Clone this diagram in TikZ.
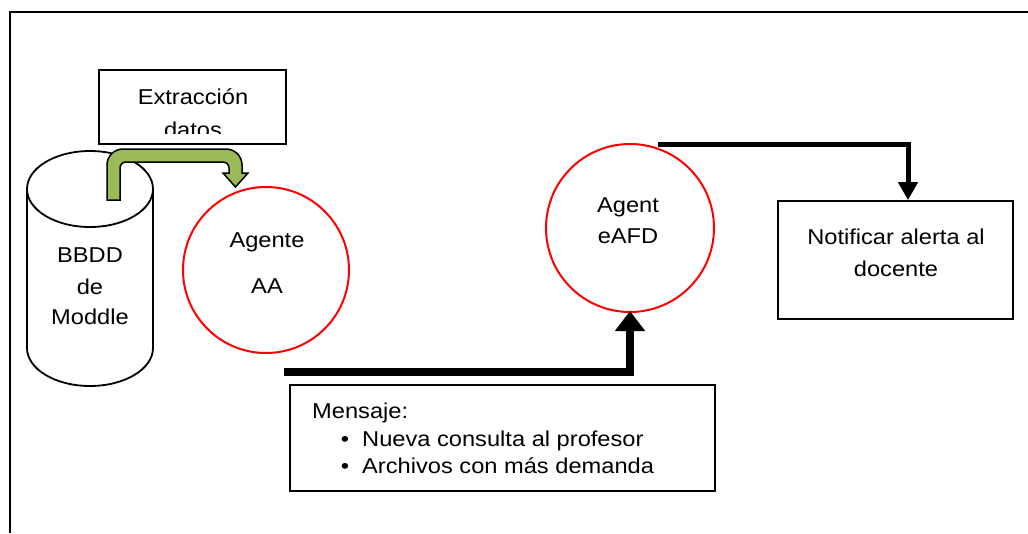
\documentclass[tikz,border=0pt]{standalone}
\usepackage{fontspec}
\setmainfont{Liberation Sans}[FakeStretch=1.1]
\usetikzlibrary{arrows.meta}
\definecolor{olivegreen}{HTML}{9BBB59}
\begin{document}
\begin{tikzpicture}[x=1pt,y=-1pt,
  every node/.style={font=\fontsize{21.5}{26}\selectfont},
  txt/.style={anchor=base,inner sep=0pt},
  boxnode/.style={draw=black,line width=1.8pt,rectangle,inner sep=0pt},
  agentnode/.style={draw=red,line width=2pt,circle,inner sep=0pt},
  bigarrow/.style={line width=8pt,-{Triangle[width=29pt,length=20pt]}},
  midarrow/.style={line width=5pt,-{Triangle[width=19pt,length=18pt]}}]
\useasboundingbox (0,0) rectangle (1028,533);
% frame
\draw[line width=1.5pt] (10,533) -- (10,12) -- (1028,12);
% extraction box
\node[boxnode,minimum width=187pt,minimum height=74pt] (extr) at (192.5,107) {};
\node[txt] (extrA) at (193,104) {Extracción};
\begin{scope}
  \clip (99,70) rectangle (286,133);
  \node[txt] (extrB) at (193,137) {datos};
\end{scope}
% cylinder
\draw[line width=1.8pt,fill=white] (27,189) -- (27,348) arc[start angle=180,end angle=360,x radius=63pt,y radius=38pt] -- (153,189);
\draw[line width=1.8pt] (90,189) ellipse [x radius=63pt,y radius=38pt];
\coordinate (db) at (90,270);
\node[txt] (dbA) at (90,262) {BBDD};
\node[txt] (dbB) at (90,294) {de};
\node[txt] (dbC) at (90,324) {Moddle};
% green U-turn arrow
\filldraw[fill=olivegreen,draw=black,line width=1.5pt,line join=miter]
  (107,200) -- (107,165) arc[start angle=180,end angle=90,radius=16pt]
  -- (226,149) arc[start angle=90,end angle=0,radius=16pt]
  -- (242,173) -- (248,173) -- (235.5,187) -- (223,173) -- (229,173)
  -- (229,168) arc[start angle=0,end angle=90,radius=6pt]
  -- (126,162) arc[start angle=90,end angle=180,radius=6pt]
  -- (120,200) -- cycle;
% agents
\node[agentnode,minimum size=166pt] (agA) at (266,270) {};
\node[txt] (agAa) at (267,247) {Agente};
\node[txt] (agAb) at (267,293) {AA};
\node[agentnode,minimum size=168pt] (agB) at (630,228) {};
\node[txt] (agBa) at (628,212) {Agent};
\node[txt] (agBb) at (628,243) {eAFD};
% notification box
\node[boxnode,minimum width=235pt,minimum height=118pt] (notif) at (895.5,260) {};
\node[txt] (notA) at (896,244) {Notificar alerta al};
\node[txt] (notB) at (896,276) {docente};
% message box
\node[boxnode,minimum width=425pt,minimum height=106pt] (msg) at (502.5,438) {};
\node[txt,anchor=base west] (msgA) at (312,418) {Mensaje:};
\node[txt] (b1) at (345,446) {•};
\node[txt,anchor=base west] (msgB) at (362,446) {Nueva consulta al profesor};
\node[txt] (b2) at (345,473) {•};
\node[txt,anchor=base west] (msgC) at (362,473) {Archivos con más demanda};
% arrows
\coordinate (s1) at (284,372);
\draw[bigarrow] (s1) -| ([yshift=2pt]agB.south);
\coordinate (s2) at (658,144);
\draw[midarrow,line join=miter] (s2) -| ([xshift=12.5pt]notif.north);
\end{tikzpicture}
\end{document}
